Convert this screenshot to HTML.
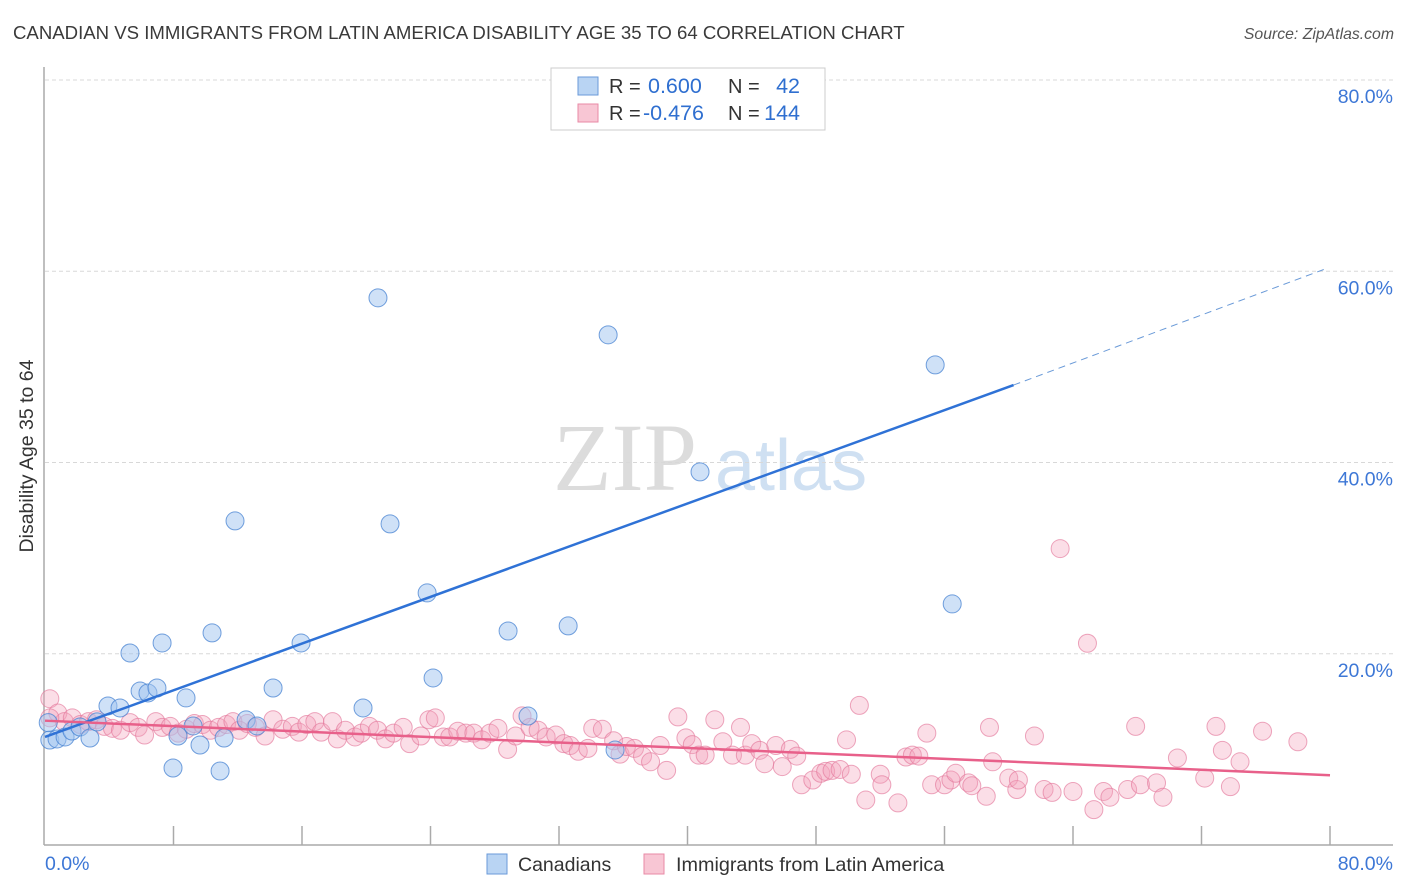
<!DOCTYPE html>
<html><head><meta charset="utf-8"><style>
body{margin:0;background:#fff;font-family:"Liberation Sans",sans-serif}
svg{display:block}
</style></head><body>
<svg id="chart" width="1406" height="892" viewBox="0 0 1406 892">
<text x="13" y="39" font-size="18.6" fill="#3a3a3a">CANADIAN VS IMMIGRANTS FROM LATIN AMERICA DISABILITY AGE 35 TO 64 CORRELATION CHART</text>
<text x="1394" y="39" font-size="15.8" fill="#555" font-style="italic" text-anchor="end">Source: ZipAtlas.com</text>
<g>
<text x="553" y="490" font-size="96" font-family="Liberation Serif,serif" fill="#dcdcdc">ZIP</text>
<text x="715" y="490" font-size="72" fill="#cfe0f2">atlas</text>
</g>
<g id="grid"></g>
<g id="axes"></g>
<text transform="translate(33,456) rotate(-90)" font-size="19.5" fill="#333" text-anchor="middle">Disability Age 35 to 64</text>
<g id="pink"></g>
<g id="blue"></g>
<g id="trends"></g>
<g>
<rect x="551" y="68" width="274" height="62" fill="#fff" stroke="#ccc"/>
<rect x="578" y="77" width="20" height="18" fill="#b9d4f3" stroke="#6a9ad8"/>
<rect x="578" y="104" width="20" height="18" fill="#f8c6d4" stroke="#e88aa6"/>
<text x="609" y="93" font-size="20" fill="#333">R = </text>
<text x="648" y="93" font-size="21.5" fill="#2f6fd0">0.600</text>
<text x="728" y="93" font-size="20" fill="#333">N =</text>
<text x="800" y="93" font-size="21.5" fill="#2f6fd0" text-anchor="end">42</text>
<text x="609" y="120" font-size="20" fill="#333">R = </text>
<text x="643" y="120" font-size="21.5" fill="#2f6fd0">-0.476</text>
<text x="728" y="120" font-size="20" fill="#333">N =</text>
<text x="800" y="120" font-size="21.5" fill="#2f6fd0" text-anchor="end">144</text>
</g>
<g>
<rect x="487" y="854" width="20" height="20" fill="#b9d4f3" stroke="#6a9ad8"/>
<text x="518" y="871" font-size="19.5" fill="#333">Canadians</text>
<rect x="644" y="854" width="20" height="20" fill="#f8c6d4" stroke="#e88aa6"/>
<text x="676" y="871" font-size="19.8" fill="#333">Immigrants from Latin America</text>
</g>
</svg>
<script>
const blueX=[0.3,0.75,1.25,1.68,2.18,2.8,3.24,3.92,4.67,5.29,5.92,6.41,6.97,7.29,7.97,8.28,8.78,9.22,9.65,10.4,10.9,11.15,11.83,12.52,13.2,14.2,15.94,19.8,20.73,21.48,23.79,24.16,28.83,30.07,32.57,35.06,35.49,36.55,40.78,55.42,56.48,0.2];
const blueY=[10.98,11.09,11.3,11.92,12.34,11.19,12.87,14.54,14.33,20.08,16.11,15.9,16.42,21.13,8.05,11.4,15.38,12.45,10.46,22.18,7.74,11.19,33.89,13.08,12.45,16.42,21.13,14.33,57.22,33.58,26.36,17.47,22.38,13.49,22.91,53.35,9.94,76.88,39.02,50.21,25.21,12.8];
const pinkX=[0.3,0.8,1.2,1.7,2.2,2.7,3.2,3.7,4.2,4.7,5.3,5.8,6.2,6.9,7.3,7.8,8.3,8.8,9.3,9.8,10.3,10.8,11.3,11.7,12.1,12.6,13.1,13.7,14.2,14.8,15.4,15.8,16.3,16.8,17.2,17.9,18.2,18.7,19.3,19.7,20.2,20.7,21.2,21.7,22.3,22.7,23.4,23.9,24.3,24.8,25.2,25.7,26.2,26.7,27.2,27.7,28.2,28.8,29.3,29.7,30.2,30.7,31.2,31.8,32.3,32.7,33.2,33.8,34.1,34.7,35.4,35.8,36.2,36.7,37.2,37.7,38.3,38.7,39.4,39.9,40.3,40.7,41.1,41.7,42.2,42.8,43.3,43.6,44.0,44.5,44.8,45.5,45.9,46.4,46.8,47.1,47.8,48.3,48.6,49.0,49.5,49.9,50.2,50.7,51.1,52.0,52.1,53.1,53.6,54.0,54.4,54.9,55.2,56.0,56.4,56.7,57.5,57.7,58.6,58.8,59.0,60.0,60.5,60.6,61.6,62.2,62.7,63.2,64.0,64.9,65.3,65.9,66.3,67.4,67.9,68.2,69.2,69.6,70.5,72.2,72.9,73.3,73.8,74.4,75.8,78.0,0.3];
const pinkY=[15.3,13.8,12.9,13.3,12.6,12.9,13.1,12.4,12.2,12.0,12.8,12.3,11.5,12.9,12.3,12.4,11.7,12.1,12.7,12.6,12.0,12.3,12.6,12.9,12.0,12.7,12.3,11.4,13.1,12.1,12.4,11.8,12.6,12.9,11.8,12.9,11.1,12.0,11.3,11.7,12.4,12.0,11.1,11.7,12.3,10.6,11.4,13.1,13.3,11.3,11.3,11.9,11.7,11.7,11.0,11.7,12.2,10.0,11.4,13.5,12.3,12.0,11.3,11.5,10.6,10.4,9.8,10.1,12.2,12.1,10.9,9.5,10.3,10.1,9.3,8.7,10.4,7.8,13.4,11.2,10.5,9.4,9.4,13.1,10.8,9.4,12.3,9.4,10.6,9.9,8.5,10.4,8.2,10.0,9.3,6.3,6.8,7.5,7.7,7.8,7.9,11.0,7.4,14.6,4.7,7.4,6.3,4.4,9.2,9.4,9.3,11.7,6.3,6.3,6.8,7.5,6.5,6.2,5.1,12.3,8.7,7.0,5.8,6.8,11.4,5.8,5.5,31.0,5.6,21.1,3.7,5.6,5.0,5.8,12.4,6.3,6.5,5.0,9.1,7.0,12.4,9.9,6.1,8.7,11.9,10.8,13.3];
const yTicks=[20,40,60,80];
const yTickLabels=["20.0%","40.0%","60.0%","80.0%"];
const xTicks=[8,16,24,32,40,48,56,64,72,80];
const blueTrend=[[0,11.3],[60.3,48.1],[79.8,60.3]];
const pinkTrend=[[0,13.0],[80,7.3]];
const X0=45,X1=1330,Y0=845,Y1=80;
const sx=v=>X0+(X1-X0)*v/80, sy=v=>Y0-(Y0-Y1)*v/80;
const NS="http://www.w3.org/2000/svg";
function mk(tag,attrs,parent){const e=document.createElementNS(NS,tag);for(const k in attrs)e.setAttribute(k,attrs[k]);parent.appendChild(e);return e;}
const grid=document.getElementById('grid'),axes=document.getElementById('axes');
yTicks.forEach((t,i)=>{
 const l=mk('line',{x1:X0,x2:1393,y1:sy(t),y2:sy(t),stroke:'#d8d8d8','stroke-dasharray':'4,3'},grid);
 
 
 const tx=mk('text',{x:1393,y:sy(t)+23,'font-size':19.5,fill:'#3d77d6','text-anchor':'end'},axes);
 tx.textContent=yTickLabels[i];
 
 
});
mk('line',{x1:X0-1,x2:X0-1,y1:67,y2:Y0,stroke:'#aaa','stroke-width':1.5},axes);
mk('line',{x1:X0-1,x2:1393,y1:Y0,y2:Y0,stroke:'#aaa','stroke-width':1.5},axes);
xTicks.forEach(t=>{const l=mk('line',{x1:sx(t),x2:sx(t),y1:Y0-19,y2:Y0,stroke:'#aaa','stroke-width':1.5},axes);
 
 });
const xl0=mk('text',{x:45,y:870,'font-size':19.5,fill:'#3d77d6'},axes);xl0.textContent='0.0%';


const xl1=mk('text',{x:1393,y:870,'font-size':19.5,fill:'#3d77d6','text-anchor':'end'},axes);xl1.textContent='80.0%';


const pink=document.getElementById('pink');
pinkX.forEach((x,i)=>{const c=mk('circle',{cx:sx(x),cy:sy(pinkY[i]),r:9,fill:'rgba(244,160,186,0.35)',stroke:'rgba(228,120,155,0.65)','stroke-width':1},pink);
 
 });
const blue=document.getElementById('blue');
blueX.forEach((x,i)=>{const c=mk('circle',{cx:sx(x),cy:sy(blueY[i]),r:9,fill:'rgba(160,196,240,0.5)',stroke:'rgba(70,130,210,0.75)','stroke-width':1},blue);
 
 });
const tr=document.getElementById('trends');
const b1=mk('line',{x1:sx(blueTrend[0][0]),y1:sy(blueTrend[0][1]),x2:sx(blueTrend[1][0]),y2:sy(blueTrend[1][1]),stroke:'#2f72d6','stroke-width':2.5},tr);


const b2=mk('line',{x1:sx(blueTrend[1][0]),y1:sy(blueTrend[1][1]),x2:sx(blueTrend[2][0]),y2:sy(blueTrend[2][1]),stroke:'#6a9ad8','stroke-width':1,'stroke-dasharray':'7,5'},tr);


const p1=mk('line',{x1:sx(pinkTrend[0][0]),y1:sy(pinkTrend[0][1]),x2:sx(pinkTrend[1][0]),y2:sy(pinkTrend[1][1]),stroke:'#e8608a','stroke-width':2.5},tr);


</script>
</body></html>
